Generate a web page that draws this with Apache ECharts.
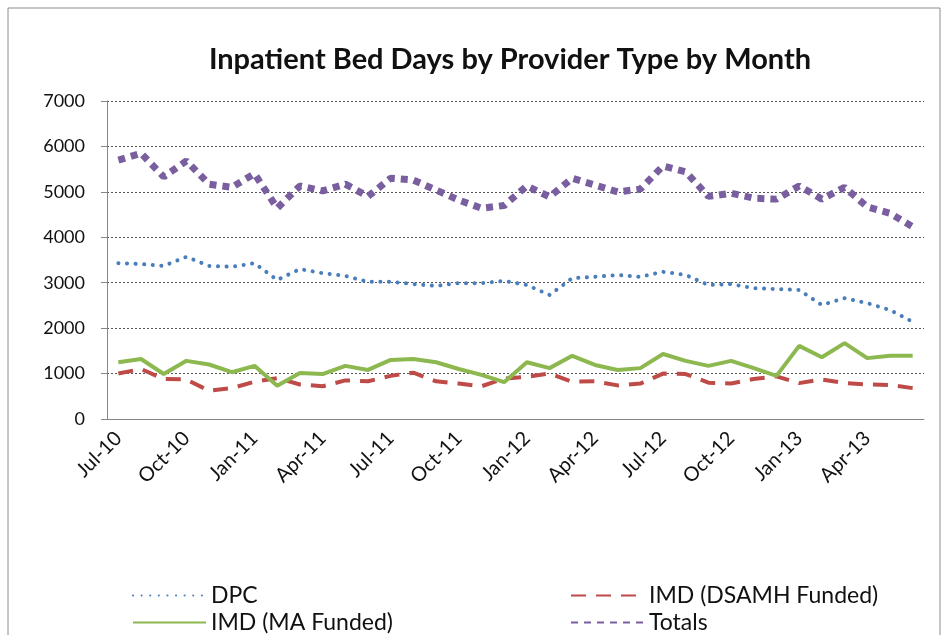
<!DOCTYPE html>
<html>
<head>
<meta charset="utf-8">
<script src="https://cdn.jsdelivr.net/npm/echarts@6/dist/echarts.min.js"></script>
<style>
  html, body { margin: 0; padding: 0; background: #fff; }
  #bedDays { width: 949px; height: 635px; }
</style>
</head>
<body>
<div id="bedDays"></div>
<script>
var months = [
  "Jul-10", "Aug-10", "Sep-10", "Oct-10", "Nov-10", "Dec-10",
  "Jan-11", "Feb-11", "Mar-11", "Apr-11", "May-11", "Jun-11",
  "Jul-11", "Aug-11", "Sep-11", "Oct-11", "Nov-11", "Dec-11",
  "Jan-12", "Feb-12", "Mar-12", "Apr-12", "May-12", "Jun-12",
  "Jul-12", "Aug-12", "Sep-12", "Oct-12", "Nov-12", "Dec-12",
  "Jan-13", "Feb-13", "Mar-13", "Apr-13", "May-13", "Jun-13"
];

var dpc = [
  3430, 3410, 3370, 3570, 3370, 3350,
  3430, 3060, 3300, 3210, 3150, 3020,
  3020, 2970, 2930, 2990, 2990, 3040,
  2950, 2730, 3100, 3130, 3170, 3130,
  3240, 3170, 2950, 2970, 2880, 2860,
  2840, 2510, 2660, 2550, 2400, 2140
];

var imdDsamh = [
  1000, 1100, 880, 870, 620, 680,
  820, 900, 760, 720, 850, 830,
  950, 1020, 830, 780, 720, 890,
  930, 1000, 820, 830, 740, 780,
  1000, 990, 800, 780, 880, 940,
  790, 870, 790, 760, 750, 680
];

var imdMa = [
  1250, 1320, 990, 1280, 1200, 1030,
  1170, 730, 1010, 990, 1170, 1080,
  1300, 1320, 1250, 1100, 970, 810,
  1250, 1120, 1390, 1190, 1080, 1120,
  1430, 1280, 1170, 1280, 1120, 950,
  1610, 1360, 1670, 1340, 1390, 1390
];

var totals = [
  5700, 5850, 5330, 5680, 5170, 5100,
  5400, 4640, 5130, 5020, 5170, 4900,
  5300, 5260, 5040, 4820, 4640, 4700,
  5130, 4890, 5300, 5150, 5000, 5060,
  5570, 5440, 4900, 4970, 4860, 4840,
  5130, 4840, 5100, 4670, 4530, 4230
];

var yTicks = [0, 1000, 2000, 3000, 4000, 5000, 6000, 7000];

var font = "Lato, 'Open Sans', sans-serif";

function legendFor(name, left, top, width) {
  return {
    data: [{ name: name, itemStyle: { opacity: 0 } }],
    left: left,
    top: top,
    itemWidth: width,
    itemHeight: 14,
    itemGap: 0,
    padding: 0,
    textStyle: { fontFamily: font, fontSize: 23, color: "#111" },
  };
}

function bedDaysChart() {
  var chartDom = document.getElementById("bedDays");
  var myChart = echarts.init(chartDom, null, { renderer: "canvas" });
  var option;

  option = {
    backgroundColor: "#ffffff",
    animation: false,
    textStyle: { fontFamily: font },
    graphic: [
      {
        type: "rect",
        shape: { x: 8, y: 8, width: 932, height: 640 },
        style: { fill: "none", stroke: "#8c8c8c", lineWidth: 1 },
      },
    ],
    title: {
      text: "Inpatient Bed Days by Provider Type by Month",
      left: 505,
      top: 40,
      textAlign: "center",
      textStyle: { fontFamily: font, fontSize: 29, fontWeight: "bold", color: "#111" },
    },
    legend: [
      legendFor("DPC", 132, 584, 73),
      legendFor("IMD (MA Funded)", 132, 611, 73),
      legendFor("IMD (DSAMH Funded)", 570, 584, 73),
      legendFor("Totals", 570, 611, 73),
    ],
    grid: {
      left: 107,
      right: 25,
      top: 101,
      bottom: 216,
    },
    xAxis: {
      type: "category",
      data: months,
      boundaryGap: true,
      axisLine: { lineStyle: { color: "#868686", width: 1 } },
      axisTick: { interval: 2, length: 6, lineStyle: { color: "#868686" } },
      axisLabel: {
        interval: 2,
        rotate: 45,
        margin: 16,
        fontFamily: font,
        fontSize: 20,
        color: "#111",
      },
      splitLine: { show: false },
    },
    yAxis: {
      type: "value",
      min: yTicks[0],
      max: yTicks[yTicks.length - 1],
      interval: 1000,
      axisLine: { show: true, lineStyle: { color: "#868686", width: 1 } },
      axisTick: { show: true, length: 6, lineStyle: { color: "#868686" } },
      axisLabel: {
        margin: 22,
        fontFamily: font,
        fontSize: 18,
        color: "#111",
        formatter: function (v) {
          return String(v);
        },
      },
      splitLine: { lineStyle: { color: "#555", type: [2, 2], width: 1 } },
    },
    series: [
      {
        name: "DPC",
        type: "line",
        data: dpc,
        symbol: "none",
        lineStyle: { color: "#4a7ebb", width: 4, type: [0.1, 8.5], cap: "round" },
        itemStyle: { color: "#4a7ebb" },
        z: 3,
      },
      {
        name: "IMD (DSAMH Funded)",
        type: "line",
        data: imdDsamh,
        symbol: "none",
        lineStyle: { color: "#be4b48", width: 4, type: [15, 10] },
        itemStyle: { color: "#be4b48" },
        z: 2,
      },
      {
        name: "IMD (MA Funded)",
        type: "line",
        data: imdMa,
        symbol: "none",
        lineStyle: { color: "#8cb84f", width: 4 },
        itemStyle: { color: "#8cb84f" },
        z: 3,
      },
      {
        name: "Totals",
        type: "line",
        data: totals,
        symbol: "none",
        lineStyle: { color: "#7a5fa0", width: 7, type: [7, 6] },
        itemStyle: { color: "#7a5fa0" },
        z: 4,
      },
    ],
  };
  option && myChart.setOption(option);
}

try {
  bedDaysChart();
} catch (err) {
  console.log(err);
}
</script>
</body>
</html>
